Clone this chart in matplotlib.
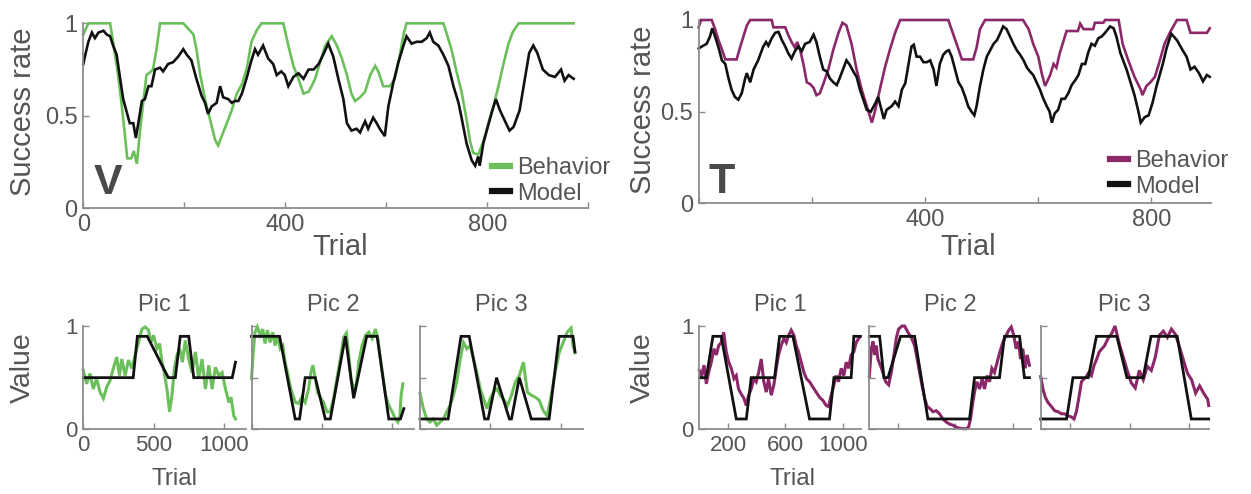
import matplotlib
matplotlib.use("Agg")
import matplotlib.pyplot as plt
from matplotlib.lines import Line2D

plt.rcParams['font.family'] = ['Liberation Sans', 'DejaVu Sans']

# ---- data (trial, value) ----
v_behavior = [(0, 0.94), (10, 1.0), (53, 1.0), (59, 0.90), (69, 0.72), (76, 0.56), (83, 0.38), (87, 0.27),
              (95, 0.27), (100, 0.31), (106, 0.24), (112, 0.41), (119, 0.58), (125, 0.72), (130, 0.73),
              (138, 0.75), (145, 0.86), (152, 1.0), (198, 1.0), (208, 0.97), (218, 0.94), (224, 0.86),
              (231, 0.73), (241, 0.59), (251, 0.48), (261, 0.37), (267, 0.34), (277, 0.41), (287, 0.48),
              (294, 0.53), (304, 0.62), (314, 0.67), (324, 0.76), (333, 0.90), (343, 0.96), (353, 1.0),
              (396, 1.0), (406, 0.88), (416, 0.77), (426, 0.70), (436, 0.62), (446, 0.63), (452, 0.66),
              (459, 0.70), (469, 0.79), (479, 0.88), (492, 0.93), (502, 0.88), (512, 0.81), (522, 0.72),
              (531, 0.62), (538, 0.58), (548, 0.60), (558, 0.63), (568, 0.72), (578, 0.77), (584, 0.74),
              (594, 0.66), (607, 0.66), (617, 0.70), (627, 0.83), (634, 0.94), (640, 1.0), (713, 1.0),
              (720, 0.94), (729, 0.86), (739, 0.74), (749, 0.63), (759, 0.48), (766, 0.36), (772, 0.30),
              (782, 0.29), (792, 0.36), (802, 0.46), (812, 0.55), (822, 0.66), (832, 0.78), (842, 0.89),
              (850, 0.95), (862, 1.0), (971, 1.0)]
v_model = [(0, 0.78), (4, 0.83), (10, 0.90), (17, 0.95), (23, 0.92), (30, 0.95), (40, 0.96), (46, 0.94),
           (53, 0.93), (59, 0.88), (66, 0.83), (73, 0.70), (79, 0.59), (86, 0.52), (92, 0.46), (99, 0.46),
           (104, 0.38), (109, 0.46), (116, 0.58), (122, 0.59), (129, 0.66), (135, 0.66), (142, 0.75),
           (152, 0.76), (158, 0.74), (168, 0.78), (178, 0.79), (188, 0.82), (198, 0.86), (205, 0.83),
           (214, 0.80), (224, 0.70), (234, 0.61), (241, 0.57), (247, 0.51), (254, 0.55), (264, 0.57),
           (271, 0.66), (277, 0.60), (287, 0.59), (294, 0.57), (300, 0.58), (307, 0.58), (314, 0.62),
           (323, 0.70), (333, 0.80), (340, 0.86), (346, 0.83), (356, 0.88), (366, 0.81), (376, 0.78),
           (383, 0.72), (392, 0.74), (399, 0.72), (406, 0.66), (416, 0.71), (426, 0.73), (436, 0.70),
           (446, 0.75), (456, 0.75), (466, 0.78), (475, 0.83), (485, 0.89), (495, 0.82), (505, 0.70),
           (515, 0.59), (522, 0.46), (531, 0.42), (541, 0.43), (548, 0.41), (558, 0.47), (564, 0.43),
           (574, 0.49), (581, 0.46), (587, 0.43), (597, 0.39), (604, 0.55), (614, 0.68), (624, 0.79),
           (634, 0.88), (640, 0.93), (650, 0.89), (660, 0.90), (670, 0.90), (680, 0.92), (686, 0.95),
           (693, 0.90), (703, 0.88), (713, 0.83), (723, 0.77), (733, 0.66), (743, 0.57), (749, 0.49),
           (759, 0.35), (769, 0.26), (776, 0.23), (782, 0.28), (785, 0.23), (792, 0.35), (799, 0.42),
           (809, 0.52), (817, 0.59), (825, 0.53), (837, 0.46), (844, 0.42), (852, 0.44), (864, 0.53),
           (875, 0.71), (883, 0.84), (891, 0.88), (899, 0.84), (910, 0.75), (922, 0.72), (934, 0.71),
           (946, 0.75), (953, 0.69), (961, 0.72), (971, 0.70)]

t_behavior = [(0, 0.96), (4, 1.0), (23, 1.0), (29, 0.95), (35, 0.89), (41, 0.84), (47, 0.785), (67, 0.785),
              (73, 0.85), (79, 0.91), (85, 0.97), (91, 1.0), (129, 1.0), (132, 0.96), (153, 0.96),
              (158, 0.92), (164, 0.88), (170, 0.85), (174, 0.88), (179, 0.84), (185, 0.76), (191, 0.66),
              (197, 0.65), (203, 0.63), (208, 0.59), (214, 0.60), (220, 0.65), (229, 0.73), (238, 0.84),
              (247, 0.93), (254, 0.985), (261, 0.97), (270, 0.87), (279, 0.73), (288, 0.62), (297, 0.53),
              (306, 0.44), (312, 0.51), (320, 0.62), (329, 0.74), (338, 0.84), (347, 0.93), (356, 1.0),
              (441, 1.0), (450, 0.92), (459, 0.84), (465, 0.785), (485, 0.785), (491, 0.85), (497, 0.95),
              (506, 1.0), (573, 1.0), (583, 0.95), (591, 0.87), (600, 0.80), (606, 0.71), (612, 0.64),
              (621, 0.70), (627, 0.76), (632, 0.74), (638, 0.82), (644, 0.88), (650, 0.94), (670, 0.94),
              (674, 0.98), (680, 0.95), (697, 0.95), (700, 0.985), (715, 0.985), (718, 1.0), (742, 1.0),
              (749, 0.87), (759, 0.78), (770, 0.69), (781, 0.62), (784, 0.59), (791, 0.64), (798, 0.66),
              (806, 0.69), (813, 0.76), (823, 0.87), (834, 0.94), (845, 1.0), (862, 1.0), (869, 0.93),
              (898, 0.93), (903, 0.955)]
t_model = [(0, 0.845), (8, 0.86), (14, 0.87), (20, 0.91), (24, 0.955), (29, 0.91), (35, 0.85), (41, 0.78),
           (47, 0.76), (52, 0.69), (58, 0.62), (64, 0.58), (70, 0.565), (76, 0.60), (82, 0.68), (85, 0.71),
           (91, 0.66), (97, 0.73), (105, 0.78), (114, 0.855), (119, 0.88), (123, 0.86), (129, 0.90),
           (135, 0.93), (141, 0.935), (147, 0.89), (153, 0.855), (158, 0.82), (164, 0.79), (170, 0.83),
           (176, 0.855), (182, 0.83), (188, 0.87), (196, 0.88), (203, 0.92), (208, 0.88), (214, 0.80),
           (220, 0.73), (226, 0.72), (232, 0.68), (238, 0.66), (244, 0.645), (250, 0.69), (256, 0.74),
           (261, 0.78), (267, 0.755), (273, 0.72), (279, 0.69), (285, 0.62), (291, 0.565), (297, 0.51),
           (304, 0.50), (312, 0.545), (317, 0.58), (323, 0.51), (327, 0.46), (332, 0.51), (341, 0.53),
           (347, 0.555), (353, 0.53), (359, 0.62), (365, 0.655), (370, 0.745), (376, 0.855), (380, 0.865),
           (385, 0.80), (391, 0.80), (397, 0.77), (403, 0.77), (409, 0.78), (415, 0.73), (420, 0.64),
           (426, 0.76), (432, 0.81), (438, 0.83), (442, 0.835), (447, 0.80), (453, 0.73), (459, 0.66),
           (465, 0.63), (471, 0.58), (476, 0.53), (482, 0.50), (487, 0.48), (491, 0.53), (497, 0.64),
           (503, 0.73), (509, 0.80), (515, 0.835), (521, 0.87), (527, 0.89), (533, 0.93), (538, 0.965),
           (544, 0.95), (550, 0.91), (556, 0.87), (562, 0.835), (568, 0.81), (574, 0.78), (580, 0.74),
           (585, 0.72), (591, 0.70), (597, 0.66), (603, 0.62), (609, 0.57), (615, 0.53), (620, 0.50),
           (624, 0.44), (629, 0.49), (635, 0.51), (641, 0.57), (647, 0.57), (653, 0.60), (659, 0.645),
           (665, 0.67), (671, 0.70), (677, 0.76), (683, 0.76), (688, 0.82), (694, 0.87), (700, 0.86),
           (706, 0.90), (712, 0.91), (718, 0.93), (727, 0.965), (733, 0.955), (738, 0.91), (745, 0.82),
           (756, 0.73), (763, 0.66), (770, 0.59), (777, 0.50), (781, 0.44), (788, 0.47), (795, 0.48),
           (802, 0.55), (809, 0.64), (820, 0.76), (827, 0.85), (835, 0.925), (845, 0.89), (855, 0.835),
           (862, 0.80), (869, 0.73), (876, 0.745), (884, 0.71), (891, 0.665), (898, 0.70), (903, 0.69)]

# value curves, V animal (green) and T animal (purple), three pictures each
v_pic_behavior = [
    [(0, 0.57), (24, 0.44), (48, 0.54), (71, 0.39), (95, 0.49), (119, 0.36), (143, 0.30), (167, 0.41),
     (190, 0.47), (214, 0.59), (238, 0.70), (257, 0.52), (274, 0.68), (298, 0.52), (321, 0.67),
     (345, 0.59), (369, 0.72), (393, 0.84), (417, 0.97), (440, 0.99), (464, 0.96), (481, 0.84),
     (500, 0.91), (524, 0.78), (543, 0.83), (560, 0.65), (576, 0.55), (595, 0.39), (614, 0.17),
     (631, 0.33), (648, 0.59), (667, 0.72), (686, 0.78), (705, 0.65), (726, 0.86), (750, 0.68),
     (774, 0.55), (798, 0.75), (821, 0.49), (845, 0.68), (869, 0.39), (893, 0.62), (917, 0.39),
     (940, 0.60), (964, 0.52), (988, 0.55), (1012, 0.39), (1036, 0.26), (1052, 0.31), (1071, 0.13),
     (1083, 0.10)],
    [(0, 0.49), (13, 0.75), (25, 0.94), (42, 0.99), (61, 0.91), (80, 0.97), (96, 0.83), (113, 0.96),
     (132, 0.84), (151, 0.94), (168, 0.81), (185, 0.91), (204, 0.78), (223, 0.81), (239, 0.65),
     (256, 0.55), (275, 0.42), (294, 0.33), (313, 0.26), (334, 0.25), (358, 0.31), (382, 0.26),
     (406, 0.39), (423, 0.55), (437, 0.62), (454, 0.49), (470, 0.36), (489, 0.31), (513, 0.26),
     (537, 0.17), (561, 0.17), (584, 0.30), (608, 0.49), (632, 0.68), (656, 0.89), (675, 0.93),
     (692, 0.72), (708, 0.49), (727, 0.39), (746, 0.44), (763, 0.65), (787, 0.81), (811, 0.91),
     (835, 0.94), (858, 0.88), (882, 0.97), (899, 0.88), (918, 0.68), (937, 0.49), (954, 0.33),
     (977, 0.23), (1001, 0.17), (1025, 0.10), (1042, 0.07), (1056, 0.13), (1065, 0.33), (1077, 0.44)],
    [(0, 0.35), (24, 0.20), (48, 0.10), (71, 0.07), (95, 0.10), (119, 0.04), (143, 0.07), (167, 0.10),
     (190, 0.17), (214, 0.23), (238, 0.33), (262, 0.46), (286, 0.68), (310, 0.84), (333, 0.78),
     (357, 0.81), (381, 0.68), (405, 0.55), (429, 0.39), (452, 0.30), (476, 0.20), (500, 0.30),
     (524, 0.36), (548, 0.39), (571, 0.33), (594, 0.29), (623, 0.23), (651, 0.33), (679, 0.46),
     (707, 0.52), (736, 0.65), (764, 0.36), (792, 0.33), (821, 0.31), (849, 0.28), (877, 0.18),
     (905, 0.13), (934, 0.33), (962, 0.55), (990, 0.74), (1019, 0.84), (1047, 0.94), (1075, 0.98),
     (1089, 0.81), (1103, 0.74)],
]
v_pic_model = [
    [(0, 0.5), (355, 0.5), (385, 0.9), (455, 0.9), (605, 0.5), (655, 0.5), (690, 0.9), (750, 0.9),
     (786, 0.5), (1060, 0.5), (1083, 0.65)],
    [(0, 0.9), (200, 0.9), (311, 0.1), (342, 0.1), (382, 0.5), (454, 0.5), (525, 0.1), (561, 0.1),
     (668, 0.9), (727, 0.3), (820, 0.9), (894, 0.9), (977, 0.1), (1060, 0.1), (1084, 0.2)],
    [(0, 0.1), (200, 0.1), (292, 0.9), (350, 0.9), (460, 0.1), (485, 0.1), (545, 0.5), (636, 0.1),
     (651, 0.1), (707, 0.5), (792, 0.1), (919, 0.1), (990, 0.9), (1089, 0.9), (1103, 0.75)],
]
t_pic_behavior = [
    [(0, 0.57), (14, 0.51), (33, 0.62), (49, 0.44), (65, 0.55), (84, 0.65), (102, 0.78), (119, 0.72),
     (135, 0.81), (153, 0.84), (170, 0.94), (188, 0.75), (205, 0.65), (223, 0.59), (242, 0.49),
     (258, 0.52), (274, 0.39), (293, 0.34), (311, 0.30), (328, 0.23), (344, 0.33), (362, 0.39),
     (381, 0.49), (397, 0.46), (414, 0.55), (432, 0.68), (450, 0.46), (467, 0.36), (483, 0.49),
     (502, 0.33), (520, 0.43), (537, 0.59), (553, 0.72), (571, 0.81), (590, 0.88), (607, 0.84),
     (623, 0.91), (641, 0.96), (660, 0.91), (676, 0.81), (692, 0.75), (711, 0.65), (730, 0.55),
     (748, 0.49), (769, 0.46), (792, 0.41), (815, 0.36), (839, 0.31), (862, 0.28), (885, 0.23),
     (901, 0.22), (920, 0.33), (939, 0.43), (955, 0.52), (971, 0.46), (990, 0.59), (1008, 0.52),
     (1025, 0.65), (1041, 0.59), (1059, 0.72), (1078, 0.75), (1094, 0.84), (1117, 0.89)],
    [(0, 0.51), (14, 0.78), (26, 0.85), (37, 0.72), (49, 0.81), (60, 0.68), (77, 0.62), (95, 0.55),
     (114, 0.46), (135, 0.43), (153, 0.55), (172, 0.72), (188, 0.88), (204, 0.97), (228, 1.0),
     (246, 1.0), (269, 0.94), (293, 0.89), (316, 0.81), (334, 0.68), (351, 0.55), (367, 0.43),
     (386, 0.30), (404, 0.22), (423, 0.20), (444, 0.17), (467, 0.18), (490, 0.15), (513, 0.10),
     (537, 0.07), (560, 0.05), (583, 0.04), (606, 0.02), (630, 0.01), (653, 0.006), (676, 0.006),
     (692, 0.02), (706, 0.10), (722, 0.26), (734, 0.36), (750, 0.46), (769, 0.39), (787, 0.49),
     (804, 0.39), (822, 0.52), (839, 0.46), (855, 0.59), (873, 0.55), (892, 0.65), (911, 0.75),
     (931, 0.84), (955, 0.91), (973, 0.96), (990, 0.99), (1008, 0.91), (1024, 0.78), (1041, 0.85),
     (1055, 0.68), (1071, 0.78), (1087, 0.59), (1101, 0.72), (1117, 0.62)],
    [(0, 0.51), (15, 0.39), (31, 0.31), (49, 0.26), (72, 0.22), (94, 0.18), (117, 0.17), (139, 0.15),
     (161, 0.15), (184, 0.13), (206, 0.12), (224, 0.10), (240, 0.17), (256, 0.30), (274, 0.46),
     (292, 0.49), (307, 0.51), (323, 0.55), (341, 0.52), (359, 0.62), (377, 0.68), (394, 0.75),
     (412, 0.78), (430, 0.81), (453, 0.88), (475, 0.92), (500, 1.0), (528, 0.83), (555, 0.70),
     (582, 0.57), (609, 0.45), (636, 0.40), (663, 0.57), (690, 0.48), (717, 0.61), (744, 0.57),
     (771, 0.70), (798, 0.91), (825, 0.95), (852, 0.89), (879, 0.97), (906, 0.92), (933, 0.80),
     (960, 0.67), (988, 0.54), (1015, 0.48), (1042, 0.35), (1069, 0.42), (1096, 0.35), (1123, 0.29),
     (1130, 0.23)],
]
t_pic_model = [
    [(0, 0.5), (49, 0.5), (95, 0.9), (153, 0.9), (258, 0.1), (328, 0.1), (362, 0.5), (525, 0.5),
     (560, 0.9), (653, 0.9), (769, 0.1), (908, 0.1), (939, 0.5), (1059, 0.5), (1078, 0.9), (1124, 0.9)],
    [(0, 0.9), (72, 0.9), (102, 0.5), (130, 0.5), (218, 0.9), (316, 0.9), (409, 0.1), (699, 0.1),
     (734, 0.5), (908, 0.5), (943, 0.9), (1048, 0.9), (1082, 0.5), (1117, 0.5)],
    [(0, 0.1), (174, 0.1), (217, 0.5), (320, 0.5), (375, 0.9), (512, 0.9), (580, 0.5), (689, 0.5),
     (742, 0.9), (918, 0.9), (1013, 0.1), (1130, 0.1)],
]
pic_titles = ['Pic 1', 'Pic 2', 'Pic 3']

GREEN = '#6cc05c'
PURPLE = '#8b2869'
BLACK = '#111111'
TXT = '#555555'
SPINE = '#8c8c8c'

W, H = 1251, 494
fig = plt.figure(figsize=(W / 100, H / 100), dpi=100)


def px_axes(x0, x1, ytop, ybot):
    return fig.add_axes([x0 / W, 1 - ybot / H, (x1 - x0) / W, (ybot - ytop) / H])


def style(ax, size=17):
    for s in ['top', 'right']:
        ax.spines[s].set_visible(False)
    for s in ['left', 'bottom']:
        ax.spines[s].set_color(SPINE)
        ax.spines[s].set_linewidth(1.3)
    ax.tick_params(direction='in', length=4, width=1, color=SPINE, labelcolor=TXT,
                   labelsize=size, pad=4)


def draw(ax, pairs, color, lw):
    xs, ys = zip(*pairs)
    ax.plot(xs, ys, color=color, lw=lw, clip_on=False, solid_joinstyle='miter')


def top_panel(x0, x1, ytop, ybot, xmax, beh, mod, color, xt_labels, letter, letter_xy, leg_xy):
    ax = px_axes(x0, x1, ytop, ybot)
    style(ax)
    draw(ax, beh, color, 1.9)
    draw(ax, mod, BLACK, 1.9)
    ax.set_xlim(0, xmax)
    ax.set_ylim(0, 1)
    ax.set_yticks([0, 0.5, 1])
    ax.set_yticklabels(['0', '0.5', '1'])
    ticks = list(range(0, int(xmax) + 1, 200))
    ax.set_xticks(ticks)
    ax.set_xticklabels(xt_labels[:len(ticks)])
    fig.text(letter_xy[0] / W, 1 - letter_xy[1] / H, letter, fontsize=31, fontweight='bold',
             color='#4a4a4a', ha='center', va='center')
    handles = [Line2D([], [], color=color, lw=4.5), Line2D([], [], color=BLACK, lw=4.5)]
    fig.legend(handles, ['Behavior', 'Model'], loc='upper left',
               bbox_to_anchor=(leg_xy[0] / W, 1 - leg_xy[1] / H), frameon=False,
               handlelength=0.75, handletextpad=0.3, labelspacing=0.15, borderpad=0,
               borderaxespad=0, fontsize=17, labelcolor=TXT)
    return ax


top_panel(83.3, 588.3, 23.3, 208.3, 1000, v_behavior, v_model, GREEN,
          ['0', '', '400', '', '800', ''], 'V', (108, 183), (492, 157))
top_panel(698.7, 1210.9, 20, 203.3, 905, t_behavior, t_model, PURPLE,
          ['', '', '400', '', '800'], 'T', (722, 182), (1110, 150))

fig.text(23 / W, 1 - 112 / H, 'Success rate', rotation=90, fontsize=21, color=TXT,
         ha='center', va='center')
fig.text(643 / W, 1 - 110 / H, 'Success rate', rotation=90, fontsize=21, color=TXT,
         ha='center', va='center')
fig.text(340 / W, 1 - 247 / H, 'Trial', fontsize=21, color=TXT, ha='center', va='center')
fig.text(968 / W, 1 - 247 / H, 'Trial', fontsize=21, color=TXT, ha='center', va='center')


def bottom_row(spans, xmax, beh_list, mod_list, color, ticks, tick_labels):
    for i, (x0, x1) in enumerate(spans):
        ax = px_axes(x0, x1, 326, 429.3)
        style(ax, 16)
        draw(ax, beh_list[i], color, 2.2)
        draw(ax, mod_list[i], BLACK, 2.0)
        ax.set_xlim(0, xmax)
        ax.set_ylim(0, 1)
        ax.set_yticks([0, 0.5, 1])
        ax.set_xticks(ticks)
        if i == 0:
            ax.set_yticklabels(['0', '', '1'])
            ax.set_xticklabels(tick_labels)
        else:
            ax.set_yticklabels([])
            ax.set_xticklabels([])
        ax.text(0.5, 1 + 21 / 103.3, pic_titles[i], transform=ax.transAxes, fontsize=17,
                color=TXT, ha='center', va='center')


bottom_row([(83.3, 246.3), (251.5, 414.5), (420, 583)], 1160, v_pic_behavior, v_pic_model,
           GREEN, [0, 500, 1000], ['0', '500', '1000'])
bottom_row([(699.3, 861.3), (869.3, 1031.3), (1040.7, 1208.7)], 1130, t_pic_behavior, t_pic_model,
           PURPLE, [200, 600, 1000], ['200', '600', '1000'])

fig.text(23 / W, 1 - 368 / H, 'Value', rotation=90, fontsize=20.5, color=TXT, ha='center', va='center')
fig.text(643 / W, 1 - 368 / H, 'Value', rotation=90, fontsize=20.5, color=TXT, ha='center', va='center')
fig.text(174 / W, 1 - 479 / H, 'Trial', fontsize=17.5, color=TXT, ha='center', va='center')
fig.text(793 / W, 1 - 479 / H, 'Trial', fontsize=17.5, color=TXT, ha='center', va='center')

fig.savefig('out.png', dpi=100)
